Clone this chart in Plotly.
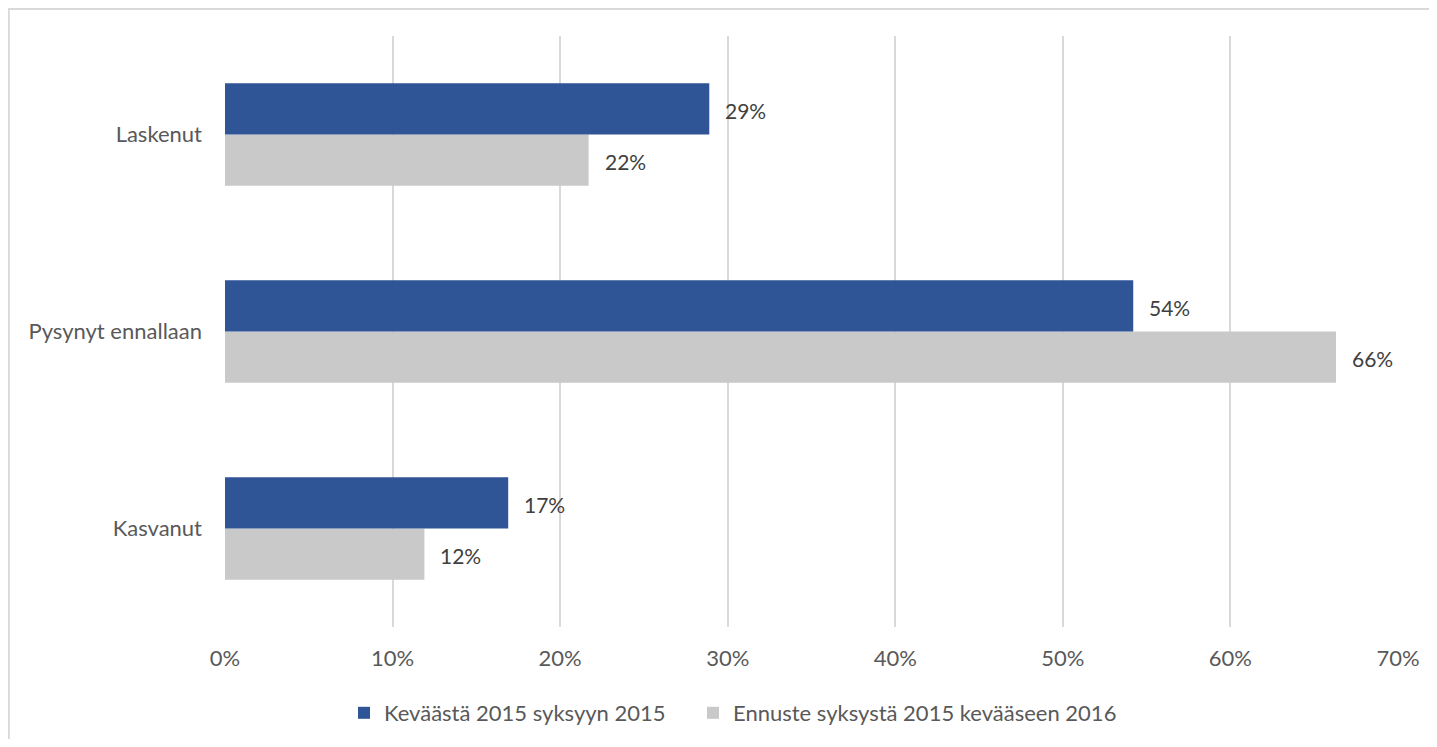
import plotly.graph_objects as go

categories = ["Kasvanut", "Pysynyt ennallaan", "Laskenut"]
series_names = ["Keväästä 2015 syksyyn 2015", "Ennuste syksystä 2015 kevääseen 2016"]
blue_values = [0.169, 0.542, 0.289]
gray_values = [0.119, 0.663, 0.217]
x_ticks = [0, 0.1, 0.2, 0.3, 0.4, 0.5, 0.6, 0.7]

BLUE = "#2F5597"
GRAY = "#C9C9C9"
FONT = "Lato, 'Open Sans', sans-serif"
FS = 22

# page has an 8px body margin; figure sized to fit the 1437x747 window
W, H = 1421, 731
L, R, T, B = 217, 31, 28, 112
PW, PH = W - L - R, H - T - B

fig = go.Figure()
fig.add_trace(go.Bar(y=categories, x=gray_values, orientation="h", name=series_names[1],
                     marker=dict(color=GRAY, line=dict(width=0)), legend="legend2",
                     showlegend=True))
fig.add_trace(go.Bar(y=categories, x=blue_values, orientation="h", name=series_names[0],
                     marker=dict(color=BLUE, line=dict(width=0)), legend="legend",
                     showlegend=True))

ann = []
for cat, bv, gv in zip(categories, blue_values, gray_values):
    ann.append(dict(x=bv, y=cat, xref="x", yref="y", text=f"{round(bv*100):.0f}%",
                    showarrow=False, xanchor="left", xshift=14, yshift=24,
                    font=dict(family=FONT, size=21, color="#404040")))
    ann.append(dict(x=gv, y=cat, xref="x", yref="y", text=f"{round(gv*100):.0f}%",
                    showarrow=False, xanchor="left", xshift=14, yshift=-27,
                    font=dict(family=FONT, size=21, color="#404040")))

leg_common = dict(orientation="h", xanchor="left", y=(H - B - 705) / PH, yanchor="middle",
                  font=dict(family=FONT, size=FS, color="#595959"), itemwidth=30)

fig.update_layout(
    width=W, height=H, showlegend=True,
    margin=dict(l=L, r=R, t=T, b=B, autoexpand=False),
    paper_bgcolor="white", plot_bgcolor="white",
    barmode="group", bargap=0.48, bargroupgap=0,
    font=dict(family=FONT, size=FS, color="#595959"),
    annotations=ann,
    legend=dict(x=(344 - 8 - L) / PW, **leg_common),
    legend2=dict(x=(693 - 8 - L) / PW, **leg_common),
    shapes=[dict(type="rect", xref="paper", yref="paper",
                 x0=(0.8 - L) / PW, x1=1.2, y0=-0.5, y1=(H - B - 1) / PH,
                 line=dict(color="#D9D9D9", width=2), fillcolor="rgba(0,0,0,0)", layer="below")],
)
fig.update_xaxes(range=[0, 0.7], tickvals=x_ticks, tickformat=".0%", showgrid=True,
                 gridcolor="#D9D9D9", gridwidth=1.5, zeroline=False, showline=False,
                 ticks="", ticklabelstandoff=16, tickfont=dict(size=FS, color="#595959"))
fig.update_yaxes(showgrid=False, showline=False, ticks="", ticklabelstandoff=22,
                 tickfont=dict(size=FS, color="#595959"))

fig.write_html("out.html")
